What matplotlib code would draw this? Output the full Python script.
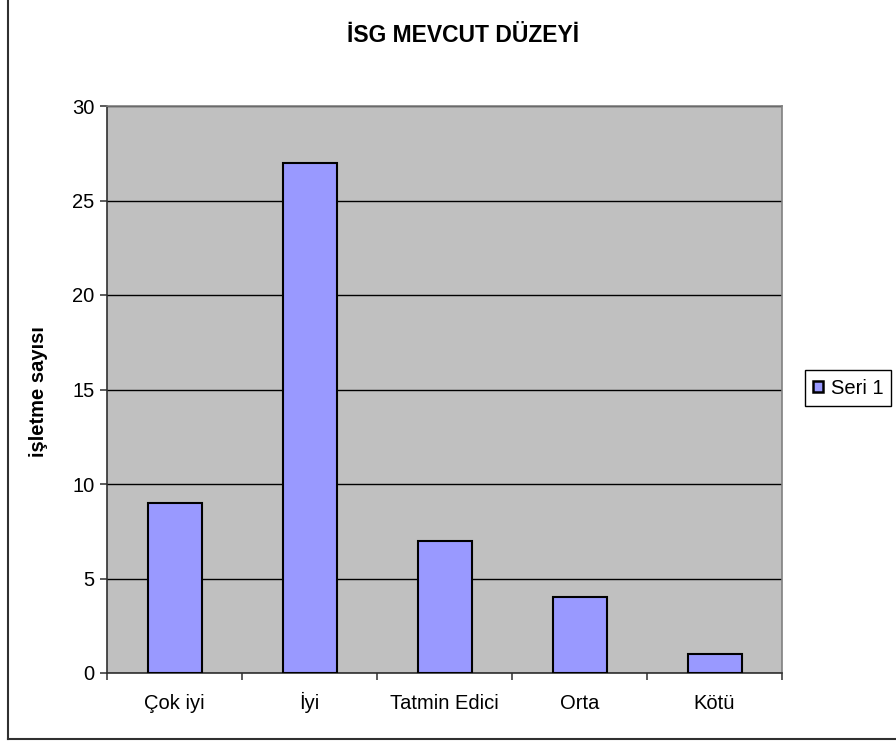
import matplotlib
matplotlib.use("Agg")
import numpy as np
import matplotlib.pyplot as plt
from matplotlib.lines import Line2D

# data
categories = ["Çok iyi", "İyi", "Tatmin Edici", "Orta", "Kötü"]
values = [9, 27, 7, 4, 1]
series_name = "Seri 1"
yticks = [0, 5, 10, 15, 20, 25, 30]

W, H = 896, 742
plt.rcParams['font.family'] = ['Liberation Sans', 'DejaVu Sans']

fig = plt.figure(figsize=(W / 100, H / 100), dpi=100)
fig.patch.set_facecolor('white')

# plot area in pixels: left 107, right 782, top 106, bottom 673
ax = fig.add_axes([107 / W, 1 - 673 / H, (782 - 107) / W, (673 - 106) / H])
ax.set_facecolor('#C0C0C0')

x = np.arange(len(categories))
bars = ax.bar(x, values, width=0.4, color='#9999FF', edgecolor='black',
              linewidth=1.5, label=series_name, zorder=3)

ax.set_xlim(-0.5, len(categories) - 0.5)
ax.set_ylim(0, 30)
ax.set_yticks(yticks)
ax.yaxis.grid(True, color='black', linewidth=1.0, zorder=1)
ax.set_axisbelow(True)

# category labels without ticks, tick marks between categories
ax.set_xticks(x)
ax.set_xticklabels(categories, fontsize=14.5)
for lab in ax.get_xticklabels():
    lab.set_va('baseline')
ax.set_xticks(np.arange(-0.5, len(categories)), minor=True)
ax.tick_params(axis='x', which='major', length=0, pad=26)
ax.tick_params(axis='x', which='minor', length=5, width=1.2, color='#404040')
ax.tick_params(axis='y', length=5, width=1.2, color='#404040', labelsize=14.5, pad=4)

for s in ['top', 'right']:
    ax.spines[s].set_color('#808080')
    ax.spines[s].set_linewidth(1.2)
for s in ['left', 'bottom']:
    ax.spines[s].set_color('#303030')
    ax.spines[s].set_linewidth(1.2)

ax.set_ylabel('işletme sayısı', fontsize=14.5, fontweight='bold')
ax.yaxis.set_label_coords(48 / W, 1 - 392 / H, transform=fig.transFigure)

fig.text(463 / W, 1 - 36 / H, 'İSG MEVCUT DÜZEYİ', fontsize=16.5, fontweight='bold',
         ha='center', va='center')

leg = ax.legend(loc='center', bbox_to_anchor=(848 / W, 1 - 388 / H),
                bbox_transform=fig.transFigure, fontsize=14.5,
                handlelength=0.5, handleheight=0.5, handletextpad=0.4,
                borderpad=0.4, fancybox=False, framealpha=1, edgecolor='black')
leg.get_frame().set_linewidth(1.0)
for h in leg.legend_handles:
    h.set_linewidth(1.8)

# chart area border (left and bottom edges visible)
fig.add_artist(Line2D([8 / W, 8 / W], [1 - 739 / H, 1.0], transform=fig.transFigure,
                      color='#303030', linewidth=1.5))
fig.add_artist(Line2D([8 / W, 1.0], [1 - 739 / H, 1 - 739 / H], transform=fig.transFigure,
                      color='#303030', linewidth=1.5))

fig.savefig('out.png', dpi=100)
